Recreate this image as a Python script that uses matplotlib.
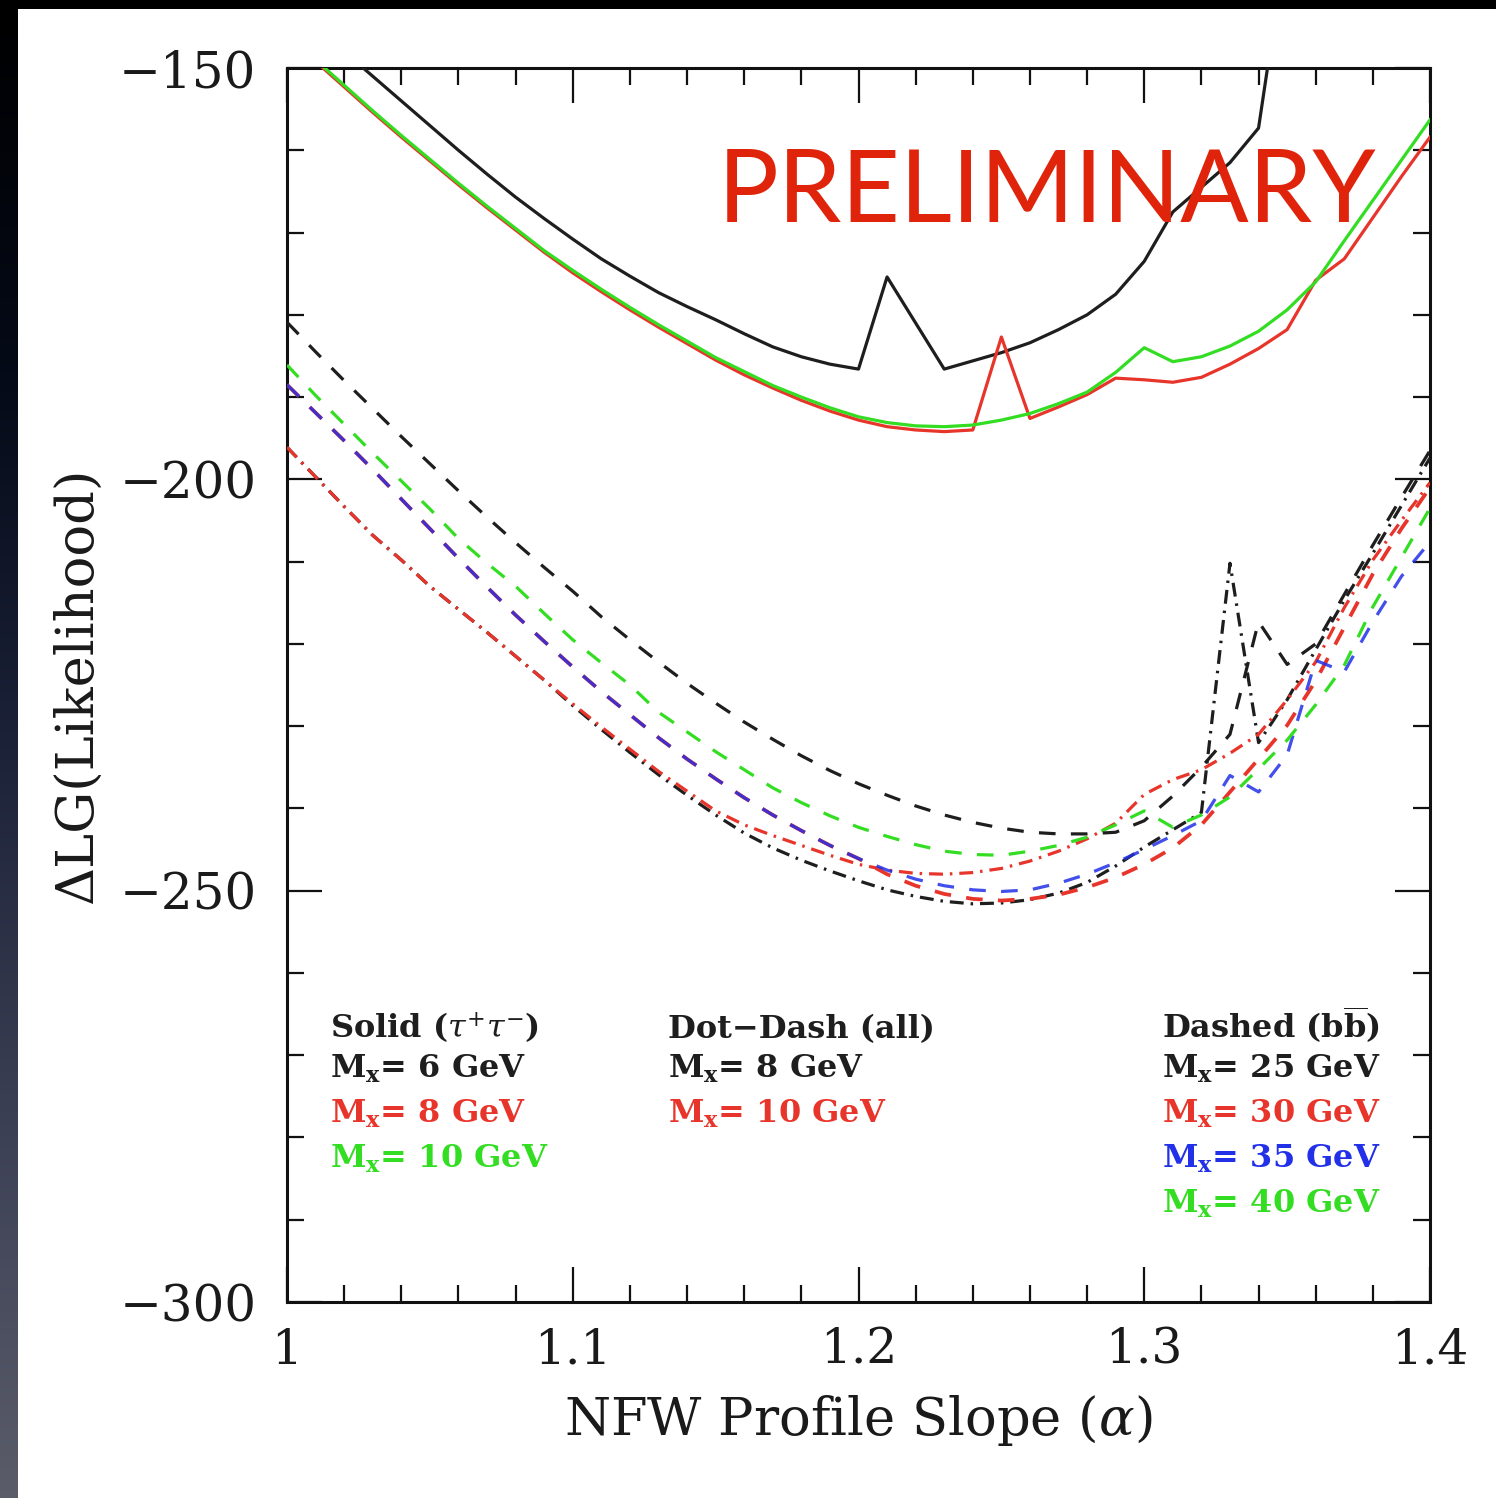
import numpy as np
import matplotlib
matplotlib.use("Agg")
import matplotlib.pyplot as plt
from matplotlib.colors import LinearSegmentedColormap
from matplotlib.patches import Rectangle
from matplotlib.ticker import FixedLocator, MultipleLocator, FuncFormatter

plt.rcParams['font.family'] = ['DejaVu Serif']
plt.rcParams['mathtext.fontset'] = 'dejavuserif'
plt.rcParams['lines.scale_dashes'] = False

# ---------------- data ----------------
alpha = [1.00, 1.01, 1.02, 1.03, 1.04, 1.05, 1.06, 1.07, 1.08, 1.09,
         1.10, 1.11, 1.12, 1.13, 1.14, 1.15, 1.16, 1.17, 1.18, 1.19,
         1.20, 1.21, 1.22, 1.23, 1.24, 1.25, 1.26, 1.27, 1.28, 1.29,
         1.30, 1.31, 1.32, 1.33, 1.34, 1.35, 1.36, 1.37, 1.38, 1.39, 1.40]

# Solid (tau+ tau-)
tau_6 = [-141.5, -144.8, -148.0, -151.0, -154.0, -157.0, -160.0, -162.9, -165.7, -168.3,
         -170.8, -173.2, -175.3, -177.3, -179.0, -180.6, -182.3, -183.9, -185.1, -186.0,
         -186.6, -175.4, -181.0, -186.6, -185.6, -184.6, -183.4, -181.8, -180.0, -177.5,
         -173.5, -167.5, -164.5, -161.5, -157.3, -134.0]
tau_8 = [-146.0, -149.2, -152.3, -155.4, -158.4, -161.3, -164.2, -167.0, -169.7, -172.4,
         -174.9, -177.2, -179.4, -181.5, -183.5, -185.5, -187.3, -188.9, -190.4, -191.7,
         -192.8, -193.6, -194.0, -194.2, -194.0, -182.7, -192.6, -191.2, -189.7, -187.7,
         -187.9, -188.2, -187.6, -186.0, -184.1, -181.8, -175.8, -173.2, -168.2, -163.2, -158.4]
tau_10 = [-145.7, -149.0, -152.1, -155.2, -158.2, -161.1, -164.0, -166.8, -169.5, -172.2,
          -174.6, -176.9, -179.1, -181.2, -183.2, -185.2, -186.9, -188.6, -190.0, -191.3,
          -192.4, -193.1, -193.5, -193.6, -193.4, -192.8, -192.0, -190.8, -189.4, -187.0,
          -184.0, -185.7, -185.1, -183.8, -182.0, -179.4, -176.0, -171.0, -166.1, -161.2, -156.3]

# Dot-Dash (all)
all_8 = [-196.1, -199.7, -203.3, -206.8, -209.8, -213.0, -215.8, -218.6, -221.5, -224.4,
         -227.5, -230.4, -233.2, -235.9, -238.4, -240.8, -243.0, -244.8, -246.3, -247.6,
         -248.8, -249.9, -250.7, -251.3, -251.6, -251.5, -251.1, -250.3, -249.0, -247.0,
         -244.7, -242.6, -240.5, -210.2, -232.0, -226.8, -220.7, -214.7, -209.0, -203.2, -197.4]
all_10 = [-196.1, -199.7, -203.3, -206.8, -209.8, -213.0, -215.8, -218.6, -221.5, -224.4,
          -227.3, -230.1, -232.8, -235.5, -237.9, -240.3, -242.0, -243.3, -244.5, -245.7,
          -246.8, -247.5, -247.9, -248.0, -247.8, -247.3, -246.4, -245.2, -243.7, -241.8,
          -238.3, -236.5, -235.3, -233.3, -231.0, -226.8, -222.2, -215.6, -209.8, -205.0, -200.4]

# Dashed (b bbar)
bb_25 = [-180.9, -184.5, -188.0, -191.4, -194.8, -198.1, -201.4, -204.6, -207.7, -210.7,
         -213.6, -216.7, -219.5, -222.2, -224.8, -227.2, -229.5, -231.6, -233.6, -235.4,
         -237.0, -238.4, -239.7, -240.8, -241.7, -242.4, -242.9, -243.1, -243.1, -242.9,
         -241.5, -238.5, -235.0, -231.0, -217.3, -222.5, -220.0, -214.0, -208.0, -202.2, -196.5]
bb_30 = [-188.5, -191.9, -195.3, -198.8, -202.4, -206.0, -209.6, -213.1, -216.5, -219.7,
         -222.8, -225.8, -228.6, -231.4, -234.0, -236.4, -238.7, -240.8, -242.7, -244.5,
         -246.1, -248.0, -249.4, -250.4, -251.0, -251.2, -251.0, -250.5, -249.6, -248.4,
         -246.8, -244.8, -242.0, -238.0, -234.0, -229.9, -224.5, -218.0, -211.5, -206.0, -201.0]
bb_35 = [-188.5, -191.9, -195.3, -198.8, -202.4, -206.0, -209.6, -213.1, -216.5, -219.7,
         -222.8, -225.8, -228.6, -231.4, -234.0, -236.4, -238.7, -240.8, -242.7, -244.5,
         -246.1, -247.5, -248.6, -249.4, -249.9, -250.1, -249.9, -249.1, -248.0, -246.6,
         -245.0, -243.3, -241.5, -236.0, -238.0, -233.5, -222.0, -223.4, -217.3, -211.8, -207.6]
bb_40 = [-186.1, -189.8, -193.3, -196.8, -200.2, -203.6, -207.2, -210.2, -213.0, -216.3,
         -219.5, -222.3, -225.0, -228.3, -230.7, -233.1, -235.3, -237.5, -239.3, -240.9,
         -242.3, -243.4, -244.4, -245.2, -245.6, -245.7, -245.2, -244.5, -243.5, -242.0,
         -240.3, -242.3, -240.8, -238.6, -235.2, -231.7, -227.4, -222.6, -215.5, -209.5, -203.5]

x_ticks = [1.0, 1.1, 1.2, 1.3, 1.4]
x_tick_labels = ["1", "1.1", "1.2", "1.3", "1.4"]
y_ticks = [-300, -250, -200, -150]
y_tick_labels = ["\u2212300", "\u2212250", "\u2212200", "\u2212150"]

BLACK = '#1e1e1e'
RED = '#e8352b'
GREEN = '#33dd22'
BLUE = '#2230e8'

# ---------------- figure ----------------
W, H = 1496, 1498
fig = plt.figure(figsize=(W / 100, H / 100), dpi=100, facecolor='white')

# slide background strips (left gradient, top black)
bg = fig.add_axes([0, 0, 18 / W, 1])
cmap = LinearSegmentedColormap.from_list('bg', ['#000000', '#050a18', '#1c2238', '#3c4055', '#5a5c69'])
bg.imshow(np.linspace(0, 1, 256).reshape(-1, 1), aspect='auto', cmap=cmap, extent=[0, 1, 0, 1], origin='upper')
bg.set_axis_off()
fig.patches.append(Rectangle((0, 1 - 9 / H), 1, 9 / H, transform=fig.transFigure,
                             facecolor='black', edgecolor='none', zorder=10))

ax = fig.add_axes([287 / W, 1 - 1302 / H, (1430 - 287) / W, (1302 - 68) / H])
ax.set_xlim(1.0, 1.4)
ax.set_ylim(-300, -150)

lw = 2.3
dash = (0, (12, 11))
dotdash = (0, (10, 5, 1.8, 5))

# dot-dash (all)
ax.plot(alpha, all_8, color=BLACK, lw=lw, ls=dotdash, zorder=3)
ax.plot(alpha, all_10, color=RED, lw=lw, ls=dotdash, zorder=3.1)
# dashed (b bbar)
ax.plot(alpha, bb_30, color=RED, lw=lw + 0.4, ls=dash, zorder=3.2)
ax.plot(alpha, bb_35, color=BLUE, lw=lw, ls=dash, zorder=3.3, alpha=0.85)
ax.plot(alpha, bb_40, color=GREEN, lw=lw, ls=dash, zorder=3.4)
ax.plot(alpha, bb_25, color=BLACK, lw=lw, ls=dash, zorder=3.5)
# solid (tau+ tau-)
ax.plot(alpha[:len(tau_6)], tau_6, color=BLACK, lw=lw, zorder=4)
ax.plot(alpha, tau_8, color=RED, lw=lw, zorder=4.1)
ax.plot(alpha, tau_10, color=GREEN, lw=lw, zorder=4.2)

# axes styling
for s in ax.spines.values():
    s.set_linewidth(2.2)
    s.set_color('#111111')
ax.xaxis.set_major_locator(FixedLocator(x_ticks))
ax.xaxis.set_major_formatter(FuncFormatter(lambda v, p: x_tick_labels[x_ticks.index(round(v, 2))] if round(v, 2) in x_ticks else ''))
ax.xaxis.set_minor_locator(MultipleLocator(0.02))
ax.yaxis.set_major_locator(FixedLocator(y_ticks))
ax.yaxis.set_major_formatter(FuncFormatter(lambda v, p: y_tick_labels[y_ticks.index(int(round(v)))] if int(round(v)) in y_ticks else ''))
ax.yaxis.set_minor_locator(MultipleLocator(10))
ax.tick_params(which='both', direction='in', top=True, right=True, width=1.6, color='#111111')
ax.tick_params(which='major', length=25)
ax.tick_params(which='minor', length=12)
ax.tick_params(axis='x', which='major', labelsize=35, pad=18)
ax.tick_params(axis='y', which='major', labelsize=36, pad=22)
for lab in ax.get_xticklabels() + ax.get_yticklabels():
    lab.set_color('#1a1a1a')

ax.set_xlabel(r"NFW Profile Slope ($\alpha$)", fontsize=38, labelpad=14, color='#1a1a1a')
ax.set_ylabel("\u0394LG(Likelihood)", fontsize=38, labelpad=12, color='#1a1a1a')

# legend texts
def axx(px):
    return (px - 287) / (1430 - 287)

def axy(py):
    return (1302 - py) / (1302 - 68)

tk = dict(transform=ax.transAxes, fontsize=23, fontweight='bold', va='baseline', ha='left')
rows = [1038, 1078, 1123, 1168, 1213]
ax.text(axx(330), axy(rows[0]), r"Solid ($\tau^{+}\tau^{-}$)", color=BLACK, **tk)
ax.text(axx(330), axy(rows[1]), r"M$_{\mathbf{x}}$= 6 GeV", color=BLACK, **tk)
ax.text(axx(330), axy(rows[2]), r"M$_{\mathbf{x}}$= 8 GeV", color=RED, **tk)
ax.text(axx(330), axy(rows[3]), r"M$_{\mathbf{x}}$= 10 GeV", color=GREEN, **tk)

ax.text(axx(668), axy(rows[0]), "Dot\u2212Dash (all)", color=BLACK, **tk)
ax.text(axx(668), axy(rows[1]), r"M$_{\mathbf{x}}$= 8 GeV", color=BLACK, **tk)
ax.text(axx(668), axy(rows[2]), r"M$_{\mathbf{x}}$= 10 GeV", color=RED, **tk)

ax.text(axx(1162), axy(rows[0]), r"Dashed (b$\overline{\mathbf{b}}$)", color=BLACK, **tk)
ax.text(axx(1162), axy(rows[1]), r"M$_{\mathbf{x}}$= 25 GeV", color=BLACK, **tk)
ax.text(axx(1162), axy(rows[2]), r"M$_{\mathbf{x}}$= 30 GeV", color=RED, **tk)
ax.text(axx(1162), axy(rows[3]), r"M$_{\mathbf{x}}$= 35 GeV", color=BLUE, **tk)
ax.text(axx(1162), axy(rows[4]), r"M$_{\mathbf{x}}$= 40 GeV", color=GREEN, **tk)

ax.text(axx(718), axy(222), "PRELIMINARY", transform=ax.transAxes, fontsize=73,
        family=['Lato', 'DejaVu Sans'], color='#e0240c', ha='left', va='baseline', zorder=6)

fig.savefig("out.png", dpi=100, facecolor='white')
